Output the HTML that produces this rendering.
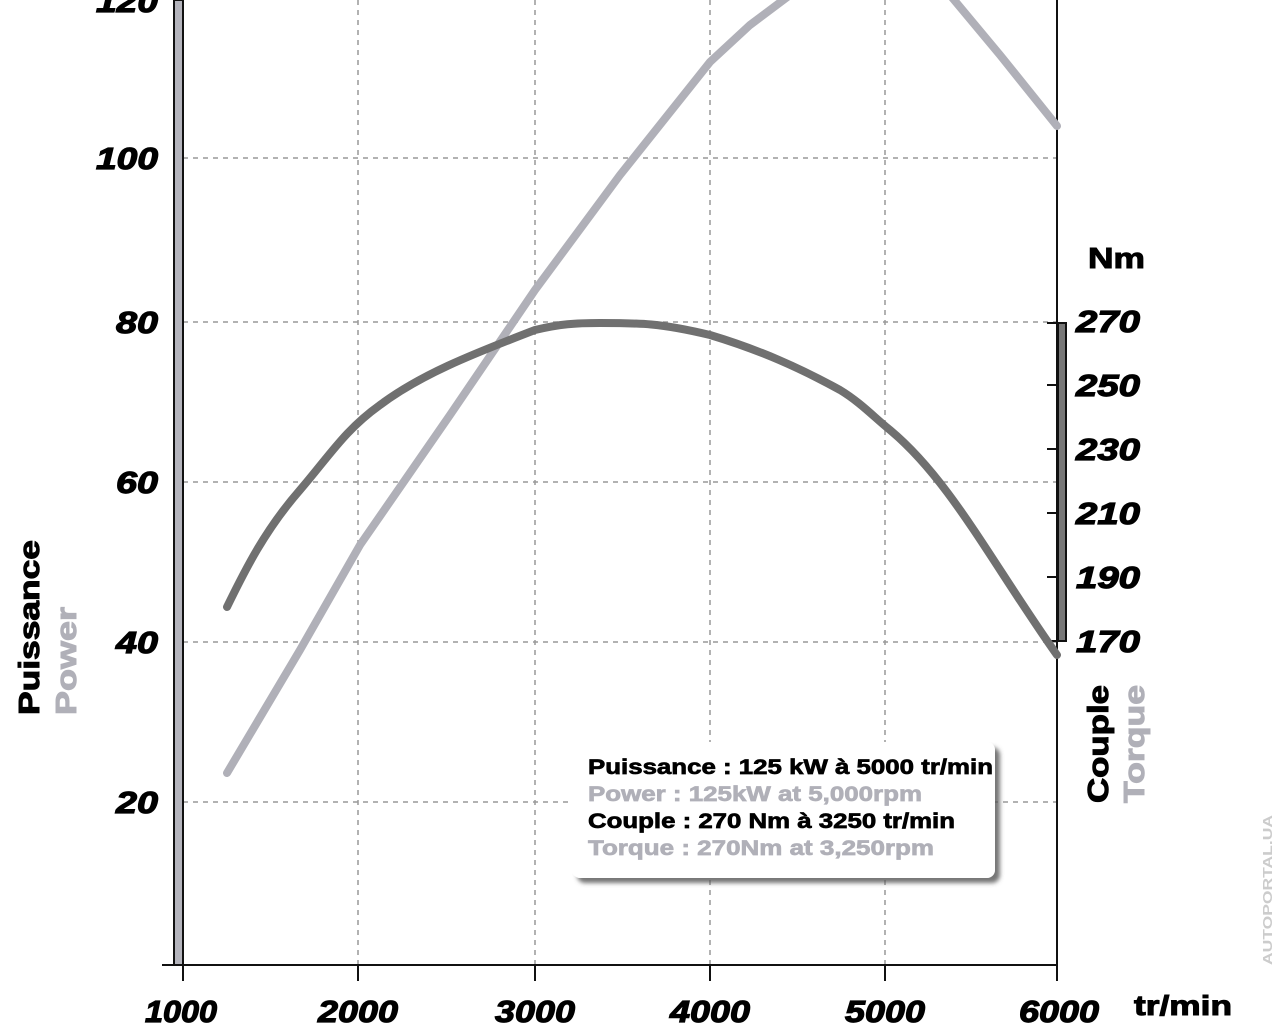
<!DOCTYPE html>
<html><head><meta charset="utf-8"><style>
html,body{margin:0;padding:0;background:#fff;}
svg{display:block;}
text{font-family:"Liberation Sans",Arial,sans-serif;font-weight:bold;}
.t{font-size:31px;font-style:italic;fill:#000;stroke:#000;stroke-width:1.2px;}
.b{stroke-width:0.8px;}
</style></head><body>
<svg width="1280" height="1024" viewBox="0 0 1280 1024">
<defs><filter id="sh" x="-10%" y="-10%" width="130%" height="140%"><feDropShadow dx="5" dy="5" stdDeviation="2" flood-color="#555" flood-opacity="0.8"/></filter></defs>
<g stroke="#999" stroke-width="1.5" stroke-dasharray="5,5">
<line x1="358" y1="0" x2="358" y2="965"/><line x1="535" y1="0" x2="535" y2="965"/>
<line x1="710" y1="0" x2="710" y2="965"/><line x1="885" y1="0" x2="885" y2="965"/>
<line x1="183" y1="158" x2="1057" y2="158"/><line x1="183" y1="322" x2="1057" y2="322"/>
<line x1="183" y1="482" x2="1057" y2="482"/><line x1="183" y1="642" x2="1057" y2="642"/>
<line x1="183" y1="802" x2="1057" y2="802"/>
</g>
<rect x="174" y="0" width="9" height="965" fill="#b4b4bc" stroke="#111" stroke-width="2"/>
<line x1="1057" y1="0" x2="1057" y2="965" stroke="#111" stroke-width="2"/>
<rect x="1058" y="323" width="8" height="318" fill="#777" stroke="#111" stroke-width="2"/>
<g stroke="#111" stroke-width="2">
<line x1="162" y1="965" x2="1057" y2="965"/>
<line x1="183" y1="965" x2="183" y2="981"/><line x1="358" y1="965" x2="358" y2="981"/>
<line x1="535" y1="965" x2="535" y2="981"/><line x1="710" y1="965" x2="710" y2="981"/>
<line x1="885" y1="965" x2="885" y2="981"/><line x1="1057" y1="965" x2="1057" y2="981"/>
<line x1="1047" y1="323" x2="1066" y2="323"/><line x1="1047" y1="385" x2="1057" y2="385"/>
<line x1="1047" y1="449" x2="1057" y2="449"/><line x1="1047" y1="513" x2="1057" y2="513"/>
<line x1="1047" y1="577" x2="1057" y2="577"/><line x1="1047" y1="641" x2="1066" y2="641"/>
</g>
<path d="M227,773 L300,650 L360,545 L450,415 L535,290 L620,175 L710,62 L750,25 L790,-5" fill="none" stroke="#b0b0b8" stroke-width="8" stroke-linecap="round"/>
<path d="M950,-5 L1000,55 L1057,126" fill="none" stroke="#b0b0b8" stroke-width="8" stroke-linecap="round"/>
<path d="M227,607 C245,570 265,530 300,490 C330,455 345,430 380,405 C420,375 470,355 535,330 C560,324 575,323 600,323 C640,323 660,323 710,335 C760,350 800,368 840,390 C860,402 875,418 890,430 C950,480 990,560 1057,655" fill="none" stroke="#707070" stroke-width="8" stroke-linecap="round"/>
<text class="t" x="96" y="12" textLength="62" lengthAdjust="spacingAndGlyphs">120</text>
<text class="t" x="96" y="169" textLength="62" lengthAdjust="spacingAndGlyphs">100</text>
<text class="t" x="116" y="333" textLength="42" lengthAdjust="spacingAndGlyphs">80</text>
<text class="t" x="116" y="493" textLength="42" lengthAdjust="spacingAndGlyphs">60</text>
<text class="t" x="116" y="653" textLength="42" lengthAdjust="spacingAndGlyphs">40</text>
<text class="t" x="116" y="813" textLength="42" lengthAdjust="spacingAndGlyphs">20</text>
<text class="t" x="145" y="1022" textLength="72" lengthAdjust="spacingAndGlyphs">1000</text>
<text class="t" x="318" y="1022" textLength="80" lengthAdjust="spacingAndGlyphs">2000</text>
<text class="t" x="495" y="1022" textLength="80" lengthAdjust="spacingAndGlyphs">3000</text>
<text class="t" x="670" y="1022" textLength="80" lengthAdjust="spacingAndGlyphs">4000</text>
<text class="t" x="845" y="1022" textLength="80" lengthAdjust="spacingAndGlyphs">5000</text>
<text class="t" x="1019" y="1022" textLength="80" lengthAdjust="spacingAndGlyphs">6000</text>
<text class="t" x="1076" y="332" textLength="64" lengthAdjust="spacingAndGlyphs">270</text>
<text class="t" x="1076" y="396" textLength="64" lengthAdjust="spacingAndGlyphs">250</text>
<text class="t" x="1076" y="460" textLength="64" lengthAdjust="spacingAndGlyphs">230</text>
<text class="t" x="1076" y="524" textLength="64" lengthAdjust="spacingAndGlyphs">210</text>
<text class="t" x="1076" y="588" textLength="64" lengthAdjust="spacingAndGlyphs">190</text>
<text class="t" x="1076" y="652" textLength="64" lengthAdjust="spacingAndGlyphs">170</text>
<text x="1088" y="268" font-size="29" stroke="#000" stroke-width="1" textLength="57" lengthAdjust="spacingAndGlyphs">Nm</text>
<text x="1134" y="1015" font-size="28" stroke="#000" stroke-width="1" textLength="98" lengthAdjust="spacingAndGlyphs">tr/min</text>
<text transform="translate(39,715) rotate(-90)" font-size="29" fill="#000" stroke="#000" stroke-width="1" textLength="175" lengthAdjust="spacingAndGlyphs">Puissance</text>
<text transform="translate(76,715) rotate(-90)" font-size="29" fill="#b0b0b8" stroke="#b0b0b8" stroke-width="1" textLength="108" lengthAdjust="spacingAndGlyphs">Power</text>
<text transform="translate(1108,803) rotate(-90)" font-size="29" fill="#000" stroke="#000" stroke-width="1" textLength="118" lengthAdjust="spacingAndGlyphs">Couple</text>
<text transform="translate(1144,803) rotate(-90)" font-size="29" fill="#b0b0b8" stroke="#b0b0b8" stroke-width="1" textLength="118" lengthAdjust="spacingAndGlyphs">Torque</text>
<text transform="translate(1272,965) rotate(-90)" font-size="13" fill="#ccc" font-weight="normal" textLength="150" lengthAdjust="spacingAndGlyphs">AUTOPORTAL.UA</text>
<rect x="572" y="742" width="423" height="136" rx="8" fill="#fff" filter="url(#sh)"/>
<g font-size="21" stroke-width="0.7">
<text x="588" y="774" fill="#000" stroke="#000" textLength="405" lengthAdjust="spacingAndGlyphs">Puissance : 125 kW à 5000 tr/min</text>
<text x="588" y="801" fill="#b0b0b8" stroke="#b0b0b8" textLength="334" lengthAdjust="spacingAndGlyphs">Power : 125kW at 5,000rpm</text>
<text x="588" y="828" fill="#000" stroke="#000" textLength="367" lengthAdjust="spacingAndGlyphs">Couple : 270 Nm à 3250 tr/min</text>
<text x="588" y="855" fill="#b0b0b8" stroke="#b0b0b8" textLength="346" lengthAdjust="spacingAndGlyphs">Torque : 270Nm at 3,250rpm</text>
</g>
</svg>
</body></html>
